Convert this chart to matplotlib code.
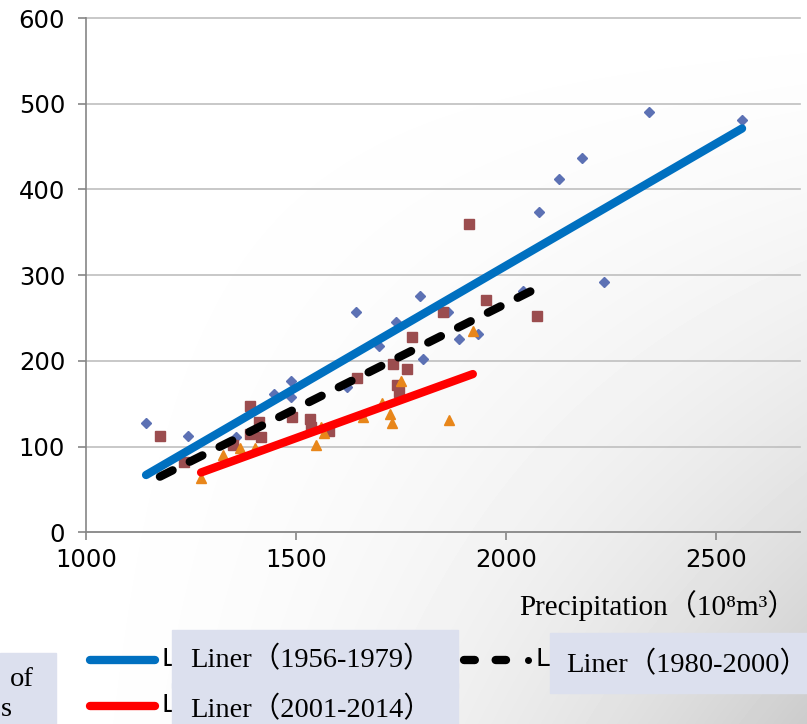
import numpy as np
import matplotlib
matplotlib.use('Agg')
import matplotlib.pyplot as plt
from matplotlib.patches import Rectangle
from matplotlib.lines import Line2D

# ---- data ----
# 1956-1979 (diamonds)
x1 = [1143, 1243, 1357, 1448, 1488, 1488, 1621, 1643, 1698, 1738, 1795,
      1802, 1862, 1888, 1933, 2040, 2079, 2126, 2181, 2233, 2340, 2562]
y1 = [127, 112, 111, 161, 177, 158, 169, 257, 217, 245, 276,
      202, 257, 225, 231, 281, 374, 412, 437, 292, 490, 481]
# 1980-2000 (squares)
x2 = [1176, 1233, 1350, 1390, 1390, 1412, 1417, 1490, 1533, 1536, 1579,
      1645, 1731, 1740, 1745, 1764, 1776, 1850, 1912, 1952, 2074]
y2 = [112, 82, 102, 147, 115, 129, 111, 134, 132, 123, 118,
      180, 196, 172, 164, 190, 228, 257, 360, 271, 252]
# 2001-2014 (triangles)
x3 = [1274, 1326, 1367, 1402, 1548, 1560, 1567, 1660, 1705, 1724, 1729,
      1750, 1864, 1921]
y3 = [63, 90, 98, 98, 102, 123, 116, 134, 151, 138, 127,
      176, 131, 235]

# linear trend lines (slope, intercept)
fit1 = (0.2849, -258.8)
fit2 = (0.2450, -223.2)
fit3 = (0.1774, -156.2)

labels = ['Liner（1956-1979）', 'Liner（1980-2000）', 'Liner（2001-2014）']
xticks = [1000, 1500, 2000, 2500]
yticks = [0, 100, 200, 300, 400, 500, 600]
xlabel = 'Precipitation（10⁸m³）'

W, H = 807, 724
serif = ['Liberation Serif', 'DejaVu Serif', 'Noto Sans CJK SC']

def fx(px):
    return px / W

def fy(py):
    return 1 - py / H

fig = plt.figure(figsize=(W / 100, H / 100), dpi=100)

# background gradient (white top-left -> grey bottom-right)
bg = fig.add_axes([0, 0, 1, 1], zorder=-10)
xx, yy = np.meshgrid(np.linspace(0, 1, W), np.linspace(0, 1, H))
shade = 1 - 0.2 * xx**2 * yy**1.5
bg.imshow(shade, cmap='gray', vmin=0, vmax=1, aspect='auto',
          extent=[0, 1, 0, 1], origin='upper')
bg.axis('off')

ax = fig.add_axes([fx(86), fy(532.3), fx(800 - 86), (532.3 - 18) / H])
ax.set_facecolor('none')

ax.plot(x1, y1, 'D', color='#5C71B4', markersize=5.3, zorder=3)
ax.plot(x2, y2, 's', color='#9B4D4F', markersize=6.5, zorder=3)
ax.plot(x3, y3, '^', color='#E8861A', markersize=7.5, zorder=3)

def trend(xs, fit):
    xl = np.array([min(xs), max(xs)])
    return xl, fit[0] * xl + fit[1]

tx, ty = trend(x1, fit1)
ax.plot(tx, ty, color='#0070C0', lw=6, solid_capstyle='round', zorder=4)
tx, ty = trend(x2, fit2)
ax.plot(tx, ty, color='black', lw=6, dashes=(1.7, 2.3),
        dash_capstyle='round', zorder=5)
tx, ty = trend(x3, fit3)
ax.plot(tx, ty, color='#FF0000', lw=6, solid_capstyle='round', zorder=4)

ax.set_xlim(1000, 2700)
ax.set_ylim(0, 600)
ax.set_xticks(xticks)
ax.set_yticks(yticks)
ax.yaxis.grid(True, color='#BFBFBF', lw=1.2, clip_on=False)
ax.set_axisbelow(True)
for s in ['top', 'right']:
    ax.spines[s].set_visible(False)
for s in ['left', 'bottom']:
    ax.spines[s].set_color('#868686')
    ax.spines[s].set_linewidth(1.2)
ax.tick_params(axis='both', direction='out', length=6, width=1.2,
               color='#868686', labelsize=17.5, labelcolor='black')
ax.tick_params(axis='y', pad=9)
ax.tick_params(axis='x', pad=5)

# axis title
fig.text(fx(797), fy(615), xlabel, ha='right', va='baseline',
         fontsize=21, family=serif)

# ---- legend (partly hidden behind label boxes) ----
box = '#DCE0EE'
fig.add_artist(Rectangle((0, fy(724)), fx(56), fy(653) - fy(724),
                         transform=fig.transFigure, color=box, zorder=2))
fig.text(fx(10), fy(686), 'of', ha='left', va='baseline', fontsize=20.5,
         family=serif, zorder=3)
fig.text(fx(1), fy(716), 's', ha='left', va='baseline', fontsize=20.5,
         family=serif, zorder=3)

fig.add_artist(Line2D([fx(90), fx(155)], [fy(660), fy(660)], color='#0070C0',
                      lw=6, solid_capstyle='round', zorder=1))
fig.add_artist(Line2D([fx(90), fx(155)], [fy(706), fy(706)], color='#FF0000',
                      lw=6, solid_capstyle='round', zorder=1))
fig.add_artist(Line2D([fx(464), fx(506)], [fy(660), fy(660)], color='black',
                      lw=6, dashes=(1.3, 2.5), dash_capstyle='round', zorder=1))
fig.add_artist(Line2D([fx(528)], [fy(660)], color='black', marker='o',
                      markersize=4, lw=0, zorder=1))

for px, py in [(162, 659), (162, 705), (535, 659)]:
    fig.text(fx(px), fy(py), 'L', ha='left', va='center', fontsize=18, zorder=1)

fig.add_artist(Rectangle((fx(172), fy(688)), fx(458 - 172), fy(630) - fy(688),
                         transform=fig.transFigure, color=box, zorder=2))
fig.add_artist(Rectangle((fx(172), fy(724)), fx(458 - 172), fy(683) - fy(724),
                         transform=fig.transFigure, color=box, zorder=2))
fig.add_artist(Rectangle((fx(550), fy(693)), fx(W - 550), fy(633) - fy(693),
                         transform=fig.transFigure, color=box, zorder=2))

fig.text(fx(190), fy(667), labels[0], ha='left', va='baseline',
         fontsize=20.5, family=serif, zorder=3)
fig.text(fx(566), fy(672), labels[1], ha='left', va='baseline',
         fontsize=20.5, family=serif, zorder=3)
fig.text(fx(190), fy(717), labels[2], ha='left', va='baseline',
         fontsize=20.5, family=serif, zorder=3)

fig.savefig('out.png', dpi=100)
